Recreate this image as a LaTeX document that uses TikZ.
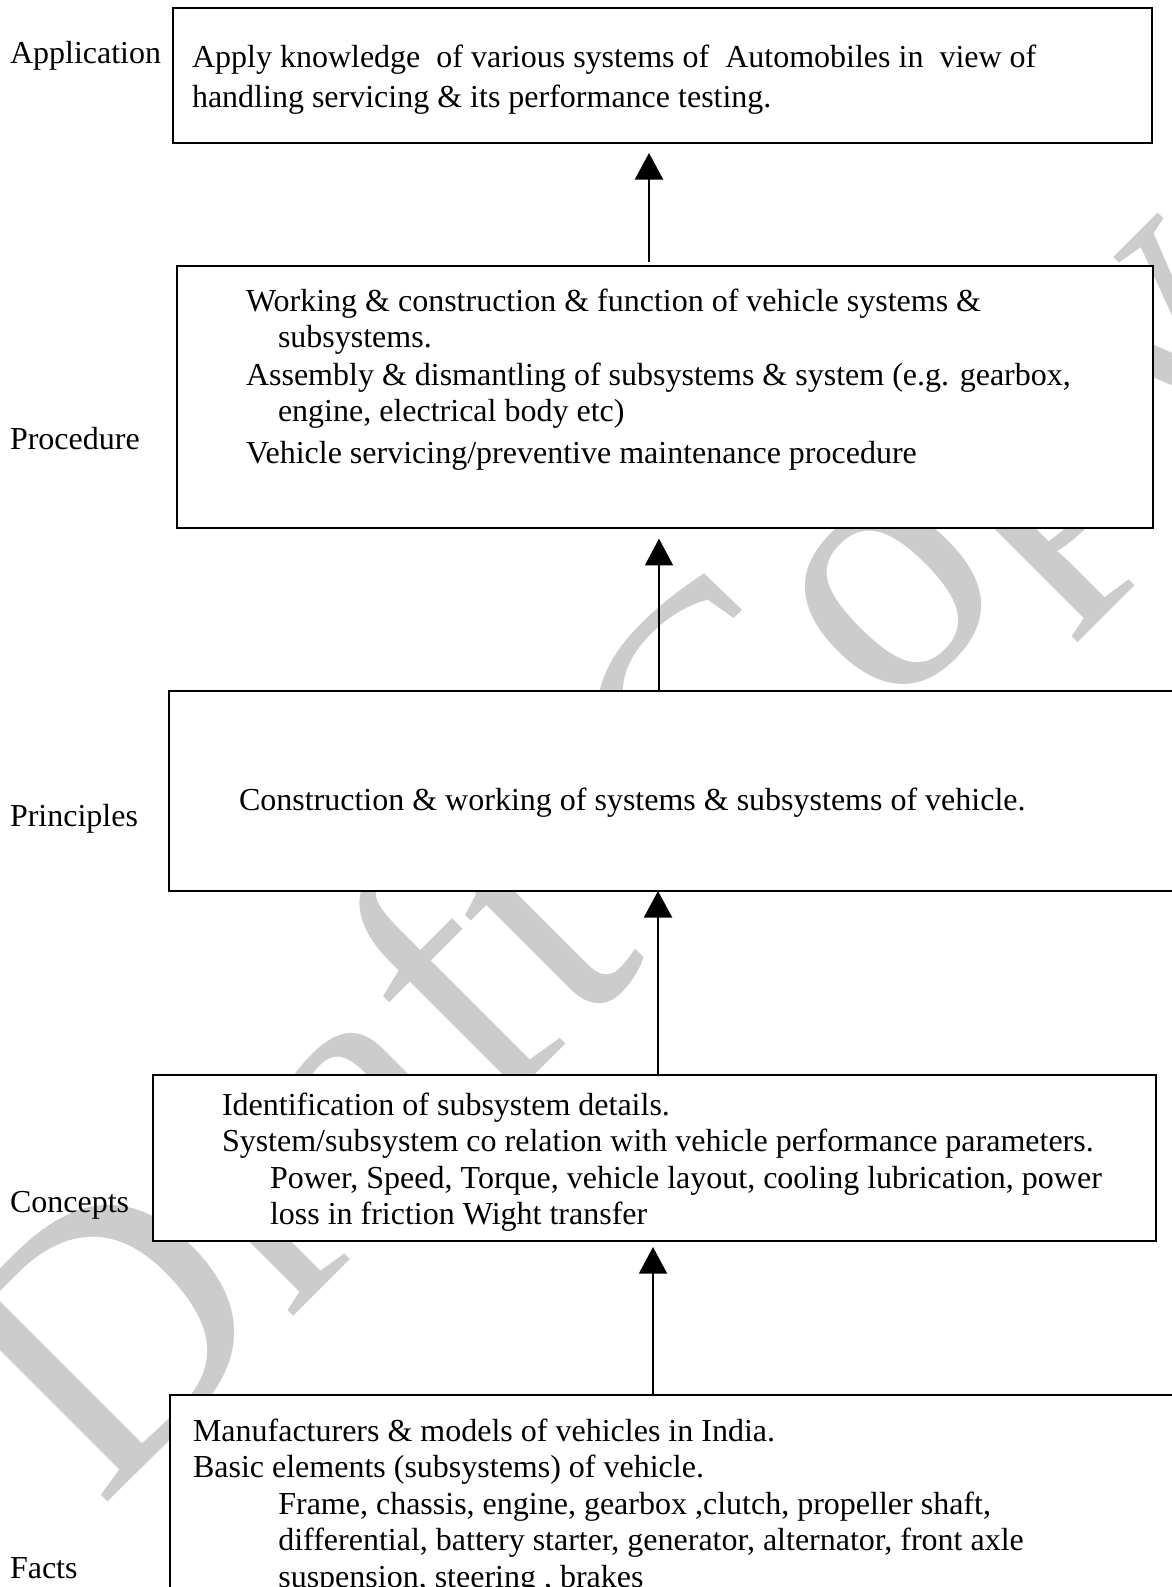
\documentclass[tikz,border=0pt]{standalone}
\usepackage{fontspec}
\setmainfont{Liberation Serif}
\usetikzlibrary{arrows.meta}
\newcommand{\mylines}[1]{\begin{tabular}[t]{@{}l@{}}#1\end{tabular}}
\begin{document}
\begin{tikzpicture}[x=0.75pt,y=-0.75pt,
  every node/.style={inner sep=0pt, outer sep=0pt},
  txt/.style={font=\fontsize{24}{27.4}\selectfont, anchor=base west},
  lbl/.style={font=\fontsize{24}{27.4}\selectfont, anchor=base west},
  boxst/.style={draw, line width=1pt, fill=white, rectangle, anchor=north west},
  arr/.style={-{Triangle[length=20pt,width=21pt]}, line width=1pt},
  wmark/.style={text=black!20, font=\fontsize{276}{276}\selectfont}
]
\useasboundingbox (0,0) rectangle (1171,1587);
\fill[white] (0,0) rectangle (1171,1587);
% watermark
\node[wmark, rotate=45] (wm) at (626,857) {Draft Copy};
% boxes
\node[boxst, line width=2pt, minimum width=734.25pt, minimum height=101.25pt] (b1) at (173,8) {};
\node[boxst, minimum width=732pt, minimum height=196.5pt] (b2) at (177,266) {};
\node[boxst, minimum width=760pt, minimum height=150pt] (b3) at (169,691) {};
\node[boxst, minimum width=752.25pt, minimum height=124.5pt] (b4) at (153,1075) {};
\node[boxst, minimum width=760pt, minimum height=160pt] (b5) at (170,1395) {};
% texts
\node[txt] (t1) at (192,68) {\mylines{Apply knowledge\ \ of various systems of\ \ Automobiles in\ \ view of\\[2pt]
handling servicing \& its performance testing.}};
\node[txt] (t2) at (246,311) {\mylines{Working \& construction \& function of vehicle systems \&\\
\hspace*{24pt}subsystems.\\[1pt]
Assembly \& dismantling of subsystems \& system (e.g. gearbox,\\
\hspace*{24pt}engine, electrical body etc)\\[4pt]
Vehicle servicing/preventive maintenance procedure}};
\node[txt] (t3) at (239,810) {Construction \& working of systems \& subsystems of vehicle.};
\node[txt] (t4) at (222,1115) {\mylines{Identification of subsystem details.\\
System/subsystem co relation with vehicle performance parameters.\\
\hspace*{36pt}Power, Speed, Torque, vehicle layout, cooling lubrication, power\\
\hspace*{36pt}loss in friction Wight transfer}};
\node[txt] (t5) at (193,1441) {\mylines{Manufacturers \& models of vehicles in India.\\
Basic elements (subsystems) of vehicle.\\
\hspace*{64pt}Frame, chassis, engine, gearbox ,clutch, propeller shaft,\\
\hspace*{64pt}differential, battery starter, generator, alternator, front axle\\
\hspace*{64pt}suspension, steering , brakes}};
% labels
\node[lbl] (l1) at (10,64) {Application};
\node[lbl] (l2) at (10,449) {Procedure};
\node[lbl] (l3) at (10,826) {Principles};
\node[lbl] (l4) at (10,1212) {Concepts};
\node[lbl] (l5) at (10,1578) {Facts};
% arrows
\draw[arr, line width=2pt, shorten <=3pt, shorten >=7.5pt] (b2.north -| 649,0) -- (b1.south -| 649,0);
\draw[arr, shorten >=8pt] (b3.north -| 659,0) -- (b2.south -| 659,0);
\draw[arr, line width=2pt] (b4.north -| 658,0) -- (b3.south -| 658,0);
\draw[arr, line width=1.5pt, shorten >=4.5pt] (b5.north -| 653,0) -- (b4.south -| 653,0);
\end{tikzpicture}
\end{document}
